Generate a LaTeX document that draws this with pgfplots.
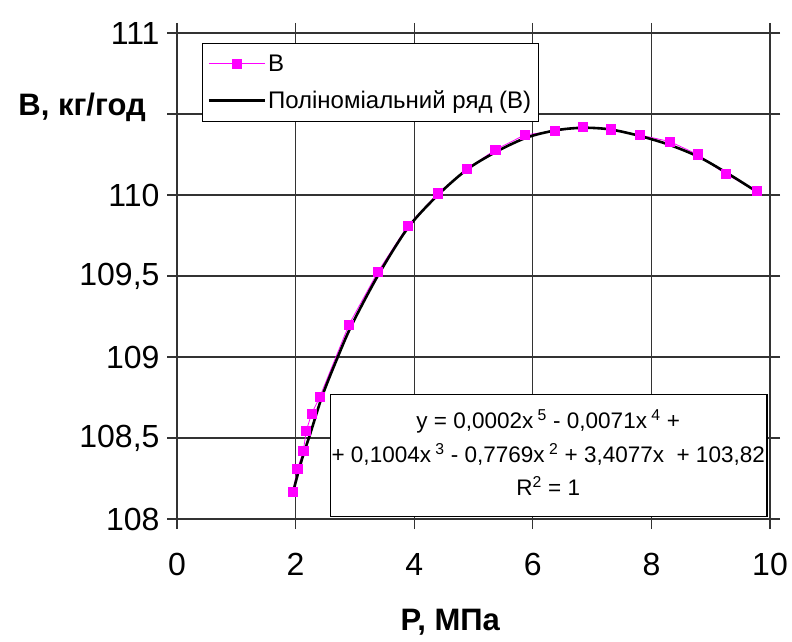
\documentclass[border=0pt]{standalone}
\usepackage{fontspec}
\setmainfont{Liberation Sans}
\usepackage{pgfplots}
\pgfplotsset{compat=1.18}
\definecolor{mag}{RGB}{255,0,255}
\begin{document}
\begin{tikzpicture}
\useasboundingbox (0,0) rectangle (792pt,642pt);
\begin{axis}[
  at={(177pt,123pt)}, anchor=south west,
  scale only axis, width=593pt, height=486pt,
  xmin=0, xmax=10, ymin=108, ymax=111,
  xtick={0,2,...,10},
  ytick={108,108.5,109,109.5,110,110.5,111},
  yticklabels={108,{108,5},109,{109,5},110,{},111},
  xmajorgrids, ymajorgrids,
  major grid style={black!80, line width=1.3pt},
  axis line style={black!80, line width=1.3pt},
  tick style={black!80, line width=1.3pt},
  tick align=outside, major tick length=10pt,
  /pgf/number format/assume math mode=true,
  /pgf/number format/use comma,
  ticklabel style={font=\fontsize{32}{38}\selectfont},
  xticklabel style={yshift=-21pt},
  yticklabel style={xshift=-4pt},
  xlabel={P, МПа},
  ylabel={В, кг/год},
  xlabel style={font=\bfseries\fontsize{31}{37}\selectfont, at={(axis description cs:0.461,-0.212)}, anchor=center},
  ylabel style={font=\bfseries\fontsize{31}{37}\selectfont, rotate=-90, at={(axis description cs:-0.160,0.848)}, anchor=center},
  legend style={at={(axis description cs:0.042,0.979)}, anchor=north west,
    draw=black, line width=1.1pt, font=\fontsize{24}{28}\selectfont,
    inner xsep=5pt, inner ysep=9pt, row sep=14pt, cells={anchor=west}},
  legend image code/.code={\draw[mark repeat=2,mark phase=2,#1] plot coordinates {(0pt,0pt) (28pt,0pt) (56pt,0pt)};},
]
\addplot[mag, line width=0.8pt, mark=square*, mark size=4.6pt, mark options={solid, fill=mag, draw=mag}] coordinates {
(1.95,108.165) (2.03,108.307) (2.13,108.42) (2.18,108.545) (2.27,108.65) (2.41,108.755)
(2.90,109.20) (3.39,109.527) (3.89,109.81) (4.40,110.01) (4.89,110.16) (5.37,110.28)
(5.86,110.37) (6.37,110.395) (6.85,110.42) (7.32,110.405) (7.81,110.37) (8.31,110.33)
(8.78,110.25) (9.25,110.13) (9.78,110.025)
};
\addlegendentry{В}
\addplot[black, line width=2.6pt, smooth, tension=0.5] coordinates {
(1.96,108.17) (2.1,108.36) (2.25,108.53) (2.45,108.76) (2.7,108.99) (2.95,109.2)
(3.4,109.51) (3.9,109.8) (4.4,110.0) (4.9,110.16) (5.4,110.27) (5.9,110.355)
(6.4,110.40) (6.85,110.415) (7.3,110.405) (7.8,110.365) (8.3,110.31) (8.8,110.235)
(9.3,110.13) (9.8,110.015)
};
\addlegendentry{Поліноміальний ряд (В)}
\draw[black, line width=1.1pt, fill=white] (axis description cs:0.259,0.006) rectangle (axis description cs:0.995,0.257);
\node[font=\fontsize{22.5}{26}\selectfont, anchor=base] at (axis description cs:0.626,0.187) {y = 0,0002x\textsuperscript{ 5} - 0,0071x\textsuperscript{ 4} +};
\node[font=\fontsize{22.5}{26}\selectfont, anchor=base] at (axis description cs:0.626,0.117) {+ 0,1004x\textsuperscript{ 3} - 0,7769x\textsuperscript{ 2} + 3,4077x \ + 103,82};
\node[font=\fontsize{22.5}{26}\selectfont, anchor=base] at (axis description cs:0.626,0.049) {R\textsuperscript{2} = 1};
\end{axis}
\end{tikzpicture}
\end{document}
